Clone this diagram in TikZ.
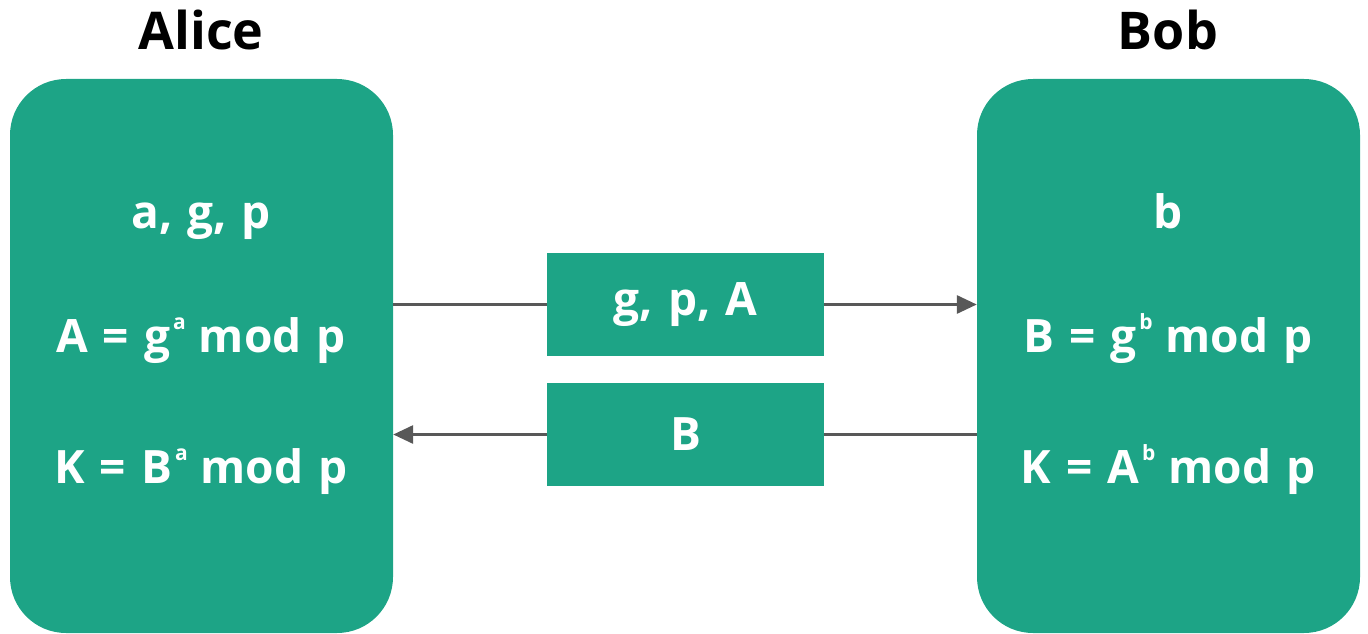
\documentclass[tikz,border=0pt]{standalone}
\usepackage{fontspec}
\setmainfont{Open Sans}[WordSpace=1.25]
\usetikzlibrary{arrows.meta}
\definecolor{teal1}{RGB}{29,164,134}
\definecolor{arrgray}{RGB}{88,88,88}
\newcommand{\supx}[1]{\hspace{3pt}\raisebox{23pt}{\fontsize{21}{21}\selectfont #1}\hspace{13pt}}
\tikzset{
  party/.style={fill=teal1, rounded corners=56pt, minimum width=383pt, minimum height=554pt, inner sep=0pt},
  msg/.style={fill=teal1, minimum width=277pt, minimum height=103pt, inner sep=0pt, text=white, font=\fontsize{46}{46}\selectfont\bfseries},
  title/.style={font=\fontsize{52}{52}\selectfont\bfseries, anchor=base, inner sep=0pt},
  inner/.style={text=white, font=\fontsize{46}{46}\selectfont\bfseries, anchor=base, inner sep=0pt},
  conn/.style={draw=arrgray, line width=3pt},
  tip/.style={-{Triangle[length=20pt,width=18pt]}}
}
\begin{document}
\begin{tikzpicture}[x=1pt,y=-1pt]
\useasboundingbox (0,0) rectangle (1368,634);
% parties
\node[party] (alice) at (201.5,356) {};
\node[party] (bob) at (1168.5,356) {};
% titles
\node[title] (alicet) at (201,49) {Alice};
\node[title] (bobt) at (1168,49) {Bob};
% messages
\node[msg] (m1) at (685.5,304.5) {g, p, A};
\node[msg] (m2) at (685.5,434.5) {B};
% connectors
\draw[conn] (m1.west -| alice.east) -- (m1.west);
\draw[conn,tip] (m1.east) -- (m1.east -| bob.west);
\draw[conn] (m2.east -| bob.west) -- (m2.east);
\draw[conn,tip] (m2.west) -- (m2.west -| alice.east);
% inner texts
\node[inner] (a1) at (201,228) {a, g, p};
\node[inner] (a2) at (201,352) {A = g\supx{a}mod p};
\node[inner] (a3) at (201,483) {K = B\supx{a}mod p};
\node[inner] (b1) at (1168,228) {b};
\node[inner] (b2) at (1168,352) {B = g\supx{b}mod p};
\node[inner] (b3) at (1168,483) {K = A\supx{b}mod p};
\end{tikzpicture}
\end{document}
